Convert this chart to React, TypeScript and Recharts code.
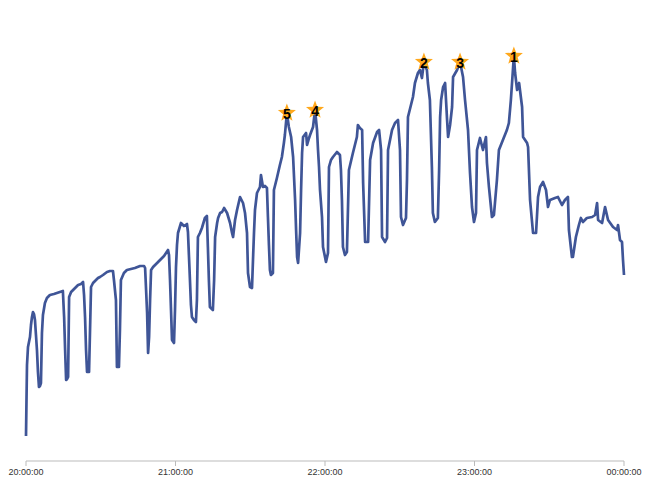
import { ComposedChart, Line, Scatter, XAxis, YAxis } from 'recharts';

// minutes after 20:00:00
const MINUTES = [
  0, 0.2, 0.4, 0.8, 1.2, 1.6, 2.0, 2.4, 2.8, 3.2, 3.6, 4.0, 4.4, 4.8, 5.2, 5.6, 6.0, 6.4, 6.8, 7.6,
  8.4, 9.6, 11.2, 12.4, 13.6, 14.8, 15.3, 15.7, 16.1, 16.5, 16.9, 17.3, 18.1, 18.9, 20.1, 20.9, 22.1,
  22.9, 23.3, 23.7, 24.1, 24.5, 25.3, 25.7, 26.1, 26.9, 27.7, 28.9, 29.7, 30.9, 32.5, 33.7, 34.9,
  35.3, 36.1, 36.5, 37.3, 37.7, 38.1, 39.3, 40.5, 42.1, 43.7, 45.8, 47.4, 47.8, 48.2, 48.6, 49.0,
  49.4, 49.8, 50.2, 51.0, 51.8, 53.0, 53.8, 55.4, 57.0, 57.4, 57.8, 58.2, 58.6, 59.4, 59.8, 60.2,
  60.6, 61.0, 62.2, 63.4, 64.6, 65.0, 65.8, 66.2, 66.6, 67.4, 68.2, 68.6, 69.0, 69.8, 70.6, 71.8,
  72.6, 73.0, 73.4, 73.8, 75.0, 75.5, 75.9, 76.7, 77.1, 77.9, 78.7, 79.5, 80.7, 81.9, 82.7, 83.1,
  83.9, 84.7, 85.9, 86.7, 87.1, 87.9, 88.7, 89.1, 89.9, 90.7, 91.1, 91.5, 91.9, 92.7, 93.9, 94.3,
  95.1, 95.9, 96.7, 97.1, 97.5, 97.9, 98.3, 99.1, 99.5, 100.7, 101.9, 102.7, 103.5, 103.9, 104.7,
  105.5, 106.4, 107.2, 108.0, 108.4, 108.8, 109.2, 110.0, 110.4, 110.8, 111.2, 112.4, 112.8, 113.6,
  114.0, 115.2, 116.0, 116.8, 117.2, 117.6, 118.0, 118.8, 119.2, 120.4, 121.2, 121.6, 122.4, 123.2,
  124.8, 126.0, 126.4, 126.8, 127.2, 128.0, 128.8, 129.6, 131.2, 132.8, 133.2, 134.0, 134.9, 135.3,
  136.1, 137.3, 138.1, 139.3, 140.9, 141.7, 142.5, 142.9, 144.1, 144.9, 145.3, 146.9, 148.1, 149.3,
  150.1, 150.5, 151.3, 152.5, 152.9, 153.3, 154.5, 155.3, 156.1, 157.3, 158.1, 158.9, 159.7, 160.9,
  161.3, 162.1, 162.9, 163.3, 164.1, 165.3, 165.8, 166.2, 166.6, 167.4, 168.2, 169.0, 169.4, 170.2,
  171.0, 171.4, 173.0, 174.2, 175.4, 176.2, 177.4, 178.2, 179.0, 179.8, 180.6, 181.0, 182.2, 183.4,
  184.6, 185.0, 185.8, 187.0, 187.8, 189.0, 189.8, 191.4, 193.0, 193.8, 194.6, 195.8, 196.3, 197.1,
  197.9, 199.1, 199.5, 201.1, 201.5, 202.3, 203.5, 204.7, 205.5, 206.3, 207.5, 208.7, 209.5, 210.3,
  212.3, 213.5, 215.1, 216.3, 217.5, 217.9, 219.1, 219.5, 220.7, 221.9, 222.7, 223.5, 225.1, 227.2,
  228.4, 229.2, 229.6, 231.2, 232.4, 233.6, 235.6, 237.2, 237.6, 238.4, 239.2, 239.6, 240.0,
];

const VALUES = [
  25, 61, 96, 114, 119, 124, 136, 144, 149, 147, 141, 126, 111, 89, 74, 75, 78, 128, 146, 158,
  163, 166, 167, 168, 169, 170, 144, 111, 81, 82, 84, 164, 169, 171, 174, 176, 177,
  179, 166, 144, 111, 89, 89, 131, 174, 178, 180, 183, 184, 186, 189, 190, 190,
  181, 161, 94, 94, 131, 181, 188, 191, 192, 193, 195, 195, 193, 171, 148, 108,
  124, 161, 191, 194, 196, 199, 201, 205, 211, 206, 181, 151, 121, 118, 151, 194,
  216, 228, 238, 235, 237, 229, 181, 156, 144, 141, 139, 161, 224, 228, 233, 243,
  245, 214, 181, 154, 151, 181, 224, 238, 243, 248, 249, 253, 248, 238, 228, 224,
  241, 251, 264, 260, 258, 248, 228, 188, 174, 173, 201, 228, 251, 268, 274, 286,
  274, 275, 273, 244, 216, 191, 186, 188, 271, 283, 296, 304, 318, 326, 348,
  334, 324, 304, 261, 231, 204, 198, 228, 271, 308, 324, 328, 316, 323,
  326, 334, 351, 331, 311, 294, 271, 244, 214, 199, 208, 294, 301, 304,
  309, 306, 291, 261, 214, 206, 209, 291, 308, 324, 336, 333, 331, 278,
  219, 219, 301, 318, 329, 331, 311, 224, 219, 223, 311, 331, 338, 341,
  311, 244, 236, 243, 281, 344, 356, 364, 378, 388, 391, 383, 399, 391,
  378, 361, 294, 248, 239, 243, 291, 344, 361, 374, 378, 341, 324, 336,
  354, 384, 391, 399, 384, 361, 331, 288, 254, 239, 248, 311, 323, 311,
  324, 298, 274, 244, 246, 281, 311, 321, 331, 338, 361, 405, 388, 371,
  378, 354, 324, 318, 314, 261, 228, 228, 264, 274, 279, 271, 254, 261,
  263, 264, 256, 261, 264, 231, 204, 204, 224, 236, 243, 239, 243, 244,
  246, 258, 241, 238, 254, 241, 234, 231, 236, 221, 219, 201, 186,
];

// top-5 peaks: time (minutes) and rank
const PEAK_MINUTES = [195.8, 159.7, 174.2, 116.0, 104.7];
const PEAK_RANKS = [1, 2, 3, 4, 5];

const TICKS = [0, 60, 120, 180, 240];

const series = MINUTES.map((t, i) => ({ t, v: VALUES[i] }));
const peaks = PEAK_MINUTES.map((t, i) => ({
  t,
  v: series.find((d) => d.t === t)?.v ?? 0,
  rank: PEAK_RANKS[i],
}));

const pad = (n: number) => String(n).padStart(2, '0');
const formatTime = (m: number) => {
  const h = (20 + Math.floor(m / 60)) % 24;
  const mm = Math.floor(m % 60);
  return `${pad(h)}:${pad(mm)}:00`;
};

const Star = (props: any) => {
  const { cx, cy, payload } = props;
  if (cx == null || cy == null) return null;
  const outer = 9.5;
  const inner = 4;
  const pts: string[] = [];
  for (let i = 0; i < 10; i++) {
    const r = i % 2 === 0 ? outer : inner;
    const a = -Math.PI / 2 + (i * Math.PI) / 5;
    pts.push(`${cx + r * Math.cos(a)},${cy + r * Math.sin(a)}`);
  }
  return (
    <g>
      <polygon points={pts.join(' ')} fill="#ffa81c" />
      <text
        x={cx}
        y={cy + 0.5}
        textAnchor="middle"
        dominantBaseline="central"
        fontSize={14}
        fontWeight="bold"
        fill="#000"
        fontFamily="'Liberation Sans', Arial, sans-serif"
      >
        {payload.rank}
      </text>
    </g>
  );
};

export default function App() {
  return (
    <div style={{ position: 'absolute', left: 0, top: 0, background: '#fff' }}>
      <ComposedChart
        width={648}
        height={486}
        data={series}
        margin={{ top: 20, right: 24, left: 26, bottom: 0 }}
      >
        <XAxis
          dataKey="t"
          type="number"
          domain={[0, 240]}
          ticks={TICKS}
          tickFormatter={formatTime}
          height={25}
          tickSize={5}
          tickMargin={3}
          stroke="#bbb"
          tick={{ fill: '#333', fontSize: 9, fontFamily: "'Liberation Sans', Arial, sans-serif" }}
          interval={0}
        />
        <YAxis hide domain={[0, 441]} />
        <Line
          dataKey="v"
          type="linear"
          stroke="#3f5597"
          strokeWidth={2.7}
          strokeLinejoin="round"
          dot={false}
          activeDot={false}
          isAnimationActive={false}
        />
        <Scatter data={peaks} dataKey="v" shape={Star} isAnimationActive={false} />
      </ComposedChart>
    </div>
  );
}
